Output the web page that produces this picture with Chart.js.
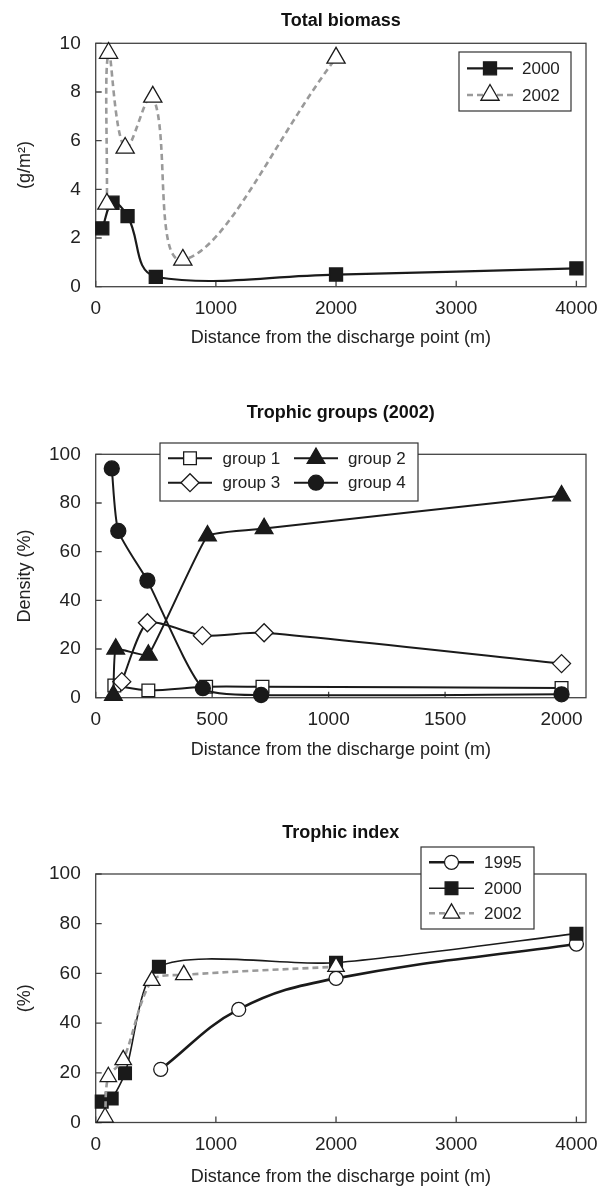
<!DOCTYPE html>
<html>
<head>
<meta charset="utf-8">
<script src="https://cdn.jsdelivr.net/npm/chart.js@4.4.1/dist/chart.umd.min.js"></script>
<style>
  html, body { margin: 0; padding: 0; background: #fff; }
  #wrap { position: relative; width: 602px; height: 1191px; }
  canvas { position: absolute; left: 0; }
</style>
</head>
<body>
<div id="wrap">
  <canvas id="biomassChart" width="602" height="380" style="top:0px"></canvas>
  <canvas id="groupsChart" width="602" height="400" style="top:390px"></canvas>
  <canvas id="indexChart" width="602" height="401" style="top:790px"></canvas>
</div>
<script>
// Total biomass (g/m2)
const biomassX2000 = [55, 140, 265, 500, 2000, 4000];
const biomassY2000 = [2.4, 3.45, 2.9, 0.4, 0.5, 0.75];
const biomassX2002 = [93, 107, 245, 475, 725, 2000];
const biomassY2002 = [3.4, 9.6, 5.7, 7.8, 1.1, 9.4];
const biomassTicksX = [0, 1000, 2000, 3000, 4000];
const biomassTicksY = [0, 2, 4, 6, 8, 10];

// Trophic groups (2002), density %
const group1X = [80, 226, 474, 716, 2000];
const group1Y = [5, 3, 4.5, 4.5, 4];
const group2X = [76, 86, 226, 480, 723, 2000];
const group2Y = [1, 20, 17.5, 66.5, 69.5, 83];
const group3X = [112, 222, 458, 723, 2000];
const group3Y = [6.6, 30.8, 25.5, 26.7, 14];
const group4X = [69, 97, 222, 460, 710, 2000];
const group4Y = [94.2, 68.5, 48.1, 3.9, 1.1, 1.4];
const groupsTicksX = [0, 500, 1000, 1500, 2000];
const groupsTicksY = [0, 20, 40, 60, 80, 100];

// Trophic index %
const index1995X = [541, 1190, 2000, 4000];
const index1995Y = [21.4, 45.5, 58, 71.8];
const index2000X = [50, 133, 244, 526, 2000, 4000];
const index2000Y = [8.4, 9.7, 19.8, 62.7, 64.3, 76];
const index2002X = [78, 105, 229, 467, 733, 2000];
const index2002Y = [2.1, 18.4, 25.2, 57.1, 59.4, 62.7];
const indexTicksX = [0, 1000, 2000, 3000, 4000];
const indexTicksY = [0, 20, 40, 60, 80, 100];

const FONT = '"Liberation Sans", Arial, Helvetica, sans-serif';
const INK = '#1a1a1a';
const GREY = '#9a9a9a';
Chart.defaults.font.family = FONT;
Chart.defaults.color = '#222';
Chart.defaults.animation = false;

function pts(xs, ys) {
  return xs.map((x, i) => ({ x: x, y: ys[i] }));
}

function series(label, xs, ys, style) {
  return Object.assign({
    label: label,
    data: pts(xs, ys),
    borderColor: INK,
    borderWidth: 2,
    pointBorderColor: INK,
    pointBorderWidth: 1.3,
    pointHoverRadius: 0,
    tension: 0.4,
    clip: false
  }, style);
}

// frame around the plot + inward tick marks
const framePlugin = {
  id: 'frame',
  beforeDatasetsDraw(chart) {
    const { ctx, chartArea: a, scales } = chart;
    ctx.save();
    ctx.strokeStyle = '#444';
    ctx.lineWidth = 1.3;
    ctx.strokeRect(a.left, a.top, a.right - a.left, a.bottom - a.top);
    ctx.beginPath();
    scales.x.ticks.forEach(t => {
      const px = scales.x.getPixelForValue(t.value);
      ctx.moveTo(px, a.bottom);
      ctx.lineTo(px, a.bottom - 6);
    });
    scales.y.ticks.forEach(t => {
      const py = scales.y.getPixelForValue(t.value);
      ctx.moveTo(a.left, py);
      ctx.lineTo(a.left + 6, py);
    });
    ctx.stroke();
    ctx.restore();
  }
};

function drawMarker(ctx, style, x, y, r) {
  ctx.beginPath();
  if (style === 'circle') {
    ctx.arc(x, y, r, 0, Math.PI * 2);
  } else if (style === 'rect') {
    const s = r * Math.SQRT1_2;
    ctx.rect(x - s, y - s, 2 * s, 2 * s);
  } else if (style === 'triangle') {
    ctx.moveTo(x, y - r);
    ctx.lineTo(x + r * Math.sin(2 * Math.PI / 3), y - r * Math.cos(2 * Math.PI / 3));
    ctx.lineTo(x + r * Math.sin(4 * Math.PI / 3), y - r * Math.cos(4 * Math.PI / 3));
    ctx.closePath();
  } else if (style === 'rectRot') {
    ctx.moveTo(x - r, y);
    ctx.lineTo(x, y - r);
    ctx.lineTo(x + r, y);
    ctx.lineTo(x, y + r);
    ctx.closePath();
  }
  ctx.fill();
  ctx.stroke();
}

// boxed legend with line sample + marker, drawn over the frame
const boxLegendPlugin = {
  id: 'boxLegend',
  afterDraw(chart, args, opts) {
    if (!opts.box) return;
    const ctx = chart.ctx;
    const [x1, y1, x2, y2] = opts.box;
    ctx.save();
    ctx.fillStyle = '#fff';
    ctx.fillRect(x1, y1, x2 - x1, y2 - y1);
    ctx.strokeStyle = '#333';
    ctx.lineWidth = 1.2;
    ctx.strokeRect(x1, y1, x2 - x1, y2 - y1);
    opts.items.forEach(it => {
      const ds = chart.data.datasets[it.ds];
      ctx.strokeStyle = ds.borderColor;
      ctx.lineWidth = ds.borderWidth;
      ctx.setLineDash(ds.borderDash || []);
      ctx.beginPath();
      ctx.moveTo(it.x, it.y);
      ctx.lineTo(it.x + it.w, it.y);
      ctx.stroke();
      ctx.setLineDash([]);
      ctx.fillStyle = ds.pointBackgroundColor;
      ctx.strokeStyle = INK;
      ctx.lineWidth = 1.3;
      drawMarker(ctx, ds.pointStyle, it.x + it.w / 2, it.y, ds.pointRadius);
      ctx.fillStyle = '#222';
      ctx.font = '17px ' + FONT;
      ctx.textAlign = 'left';
      ctx.textBaseline = 'middle';
      ctx.fillText(ds.label, it.tx, it.y + 1);
    });
    ctx.restore();
  }
};

function axisX(ticks, max, fitHeight, titlePad) {
  return {
    type: 'linear',
    min: 0,
    max: max,
    grid: { display: false },
    border: { display: false },
    afterBuildTicks: s => { s.ticks = ticks.map(v => ({ value: v })); },
    afterFit: s => { s.height = fitHeight; },
    ticks: { padding: 3, font: { size: 19 }, color: '#222', maxRotation: 0, autoSkip: false, callback: v => String(v) },
    title: { display: true, text: 'Distance from the discharge point (m)', font: { size: 18 }, color: '#222', padding: { top: 0, bottom: titlePad } }
  };
}

function axisY(ticks, max, text) {
  return {
    type: 'linear',
    min: 0,
    max: max,
    grid: { display: false },
    border: { display: false },
    afterBuildTicks: s => { s.ticks = ticks.map(v => ({ value: v })); },
    afterFit: s => { s.width = 95.7; },
    ticks: { padding: 7, font: { size: 19 }, color: '#222', autoSkip: false, callback: v => String(v) },
    title: { display: true, text: text, font: { size: 18 }, color: '#222', padding: { top: 14, bottom: 0 } }
  };
}

function titleOpts(text, top, bottom) {
  return { display: true, text: text, fullSize: false, color: '#111', font: { size: 18, weight: 'bold' }, padding: { top: top, bottom: bottom } };
}

// 1. Total biomass
new Chart(document.getElementById('biomassChart'), {
  type: 'line',
  data: {
    datasets: [
      series('2000', biomassX2000, biomassY2000, { pointStyle: 'rect', pointRadius: 9.2, pointBackgroundColor: INK, borderWidth: 2.2, order: 1 }),
      series('2002', biomassX2002, biomassY2002, { pointStyle: 'triangle', pointRadius: 10.5, pointBackgroundColor: '#fff', borderColor: GREY, borderWidth: 2.6, borderDash: [6, 4], order: 0 })
    ]
  },
  options: {
    responsive: false,
    layout: { padding: { top: 0, right: 16, left: 0, bottom: 0 } },
    scales: { x: axisX(biomassTicksX, 4080, 93.3, 31.2), y: axisY(biomassTicksY, 10, '(g/m²)') },
    plugins: {
      legend: { display: false },
      tooltip: { enabled: false },
      title: titleOpts('Total biomass', 10, 11.7),
      boxLegend: {
        box: [459, 52, 571, 111],
        items: [
          { ds: 0, x: 467, y: 68.3, w: 46, tx: 522 },
          { ds: 1, x: 467, y: 95, w: 46, tx: 522 }
        ]
      }
    }
  },
  plugins: [framePlugin, boxLegendPlugin]
});

// 2. Trophic groups (2002)
new Chart(document.getElementById('groupsChart'), {
  type: 'line',
  data: {
    datasets: [
      series('group 1', group1X, group1Y, { pointStyle: 'rect', pointRadius: 9, pointBackgroundColor: '#fff', tension: 0.3, order: 3 }),
      series('group 2', group2X, group2Y, { pointStyle: 'triangle', pointRadius: 10.2, pointBackgroundColor: INK, tension: 0.1, order: 1 }),
      series('group 3', group3X, group3Y, { pointStyle: 'rectRot', pointRadius: 9, pointBackgroundColor: '#fff', tension: 0.2, order: 2 }),
      series('group 4', group4X, group4Y, { pointStyle: 'circle', pointRadius: 7.5, pointBackgroundColor: INK, tension: 0.2, order: 0 })
    ]
  },
  options: {
    responsive: false,
    layout: { padding: { top: 0, right: 16, left: 0, bottom: 0 } },
    scales: { x: axisX(groupsTicksX, 2105, 92.3, 29.2), y: axisY(groupsTicksY, 100, 'Density (%)') },
    plugins: {
      legend: { display: false },
      tooltip: { enabled: false },
      title: titleOpts('Trophic groups (2002)', 12.5, 30.2),
      boxLegend: {
        box: [160, 53, 418, 111],
        items: [
          { ds: 0, x: 168, y: 68.3, w: 44, tx: 222.6 },
          { ds: 1, x: 294, y: 68.3, w: 44, tx: 348 },
          { ds: 2, x: 168, y: 92.7, w: 44, tx: 222.6 },
          { ds: 3, x: 294, y: 92.7, w: 44, tx: 348 }
        ]
      }
    }
  },
  plugins: [framePlugin, boxLegendPlugin]
});

// 3. Trophic index
new Chart(document.getElementById('indexChart'), {
  type: 'line',
  data: {
    datasets: [
      series('1995', index1995X, index1995Y, { pointStyle: 'circle', pointRadius: 7, pointBackgroundColor: '#fff', borderWidth: 2.6, order: 2 }),
      series('2000', index2000X, index2000Y, { pointStyle: 'rect', pointRadius: 9, pointBackgroundColor: INK, borderWidth: 1.6, tension: 0.25, order: 1 }),
      series('2002', index2002X, index2002Y, { pointStyle: 'triangle', pointRadius: 9.5, pointBackgroundColor: '#fff', borderColor: GREY, borderWidth: 2.6, borderDash: [6, 4], tension: 0.3, order: 0 })
    ]
  },
  options: {
    responsive: false,
    layout: { padding: { top: 0, right: 16, left: 0, bottom: 0 } },
    scales: { x: axisX(indexTicksX, 4080, 68.5, 3.5), y: axisY(indexTicksY, 100, '(%)') },
    plugins: {
      legend: { display: false },
      tooltip: { enabled: false },
      title: titleOpts('Trophic index', 32.5, 29.9),
      boxLegend: {
        box: [421, 57, 534, 139],
        items: [
          { ds: 0, x: 429, y: 72.3, w: 45, tx: 484 },
          { ds: 1, x: 429, y: 98.3, w: 45, tx: 484 },
          { ds: 2, x: 429, y: 123.3, w: 45, tx: 484 }
        ]
      }
    }
  },
  plugins: [framePlugin, boxLegendPlugin]
});
</script>
</body>
</html>
